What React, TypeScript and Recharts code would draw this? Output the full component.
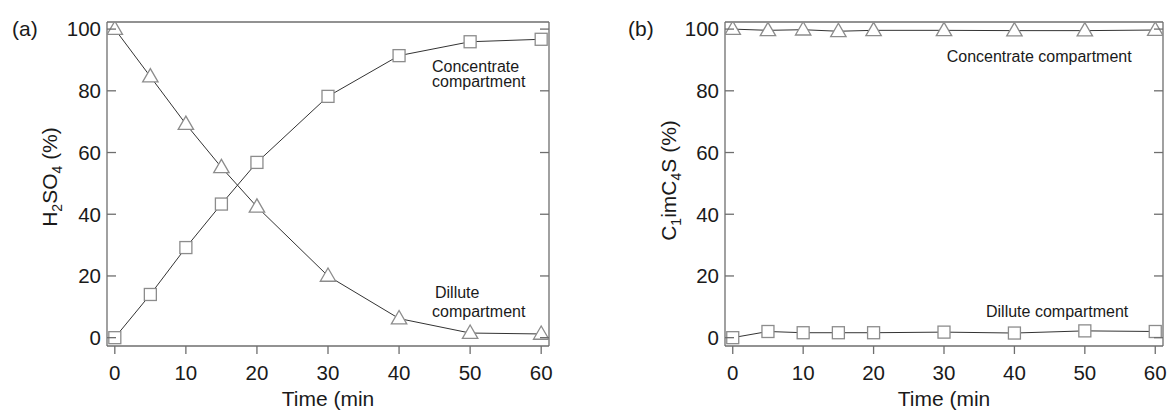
import React from 'react';
import { LineChart, Line, XAxis, YAxis, ReferenceLine } from 'recharts';

const times = [0, 5, 10, 15, 20, 30, 40, 50, 60];
const aConcentrate = [0, 14, 29.2, 43.3, 56.8, 78.2, 91.4, 95.9, 96.7];
const aDilute = [100, 84.6, 69.2, 55.2, 42.4, 20, 6.2, 1.5, 1.2];
const bConcentrate = [100, 99.6, 99.8, 99.3, 99.6, 99.6, 99.5, 99.5, 99.7];
const bDilute = [0, 2.0, 1.6, 1.6, 1.6, 1.8, 1.5, 2.2, 2.0];
const xTicks = [0, 10, 20, 30, 40, 50, 60];
const yTicks = [0, 20, 40, 60, 80, 100];
const X_DOMAIN: [number, number] = [-1.1, 61.1];
const Y_DOMAIN: [number, number] = [-2.7, 102.3];

const dataA = times.map((t, i) => ({ t, conc: aConcentrate[i], dil: aDilute[i] }));
const dataB = times.map((t, i) => ({ t, conc: bConcentrate[i], dil: bDilute[i] }));

const FONT = '"Liberation Sans", Arial, sans-serif';
const AXIS = '#6e6e6e';
const LINE = '#333333';
const MARK = '#8c8c8c';
const TXT = '#1a1a1a';

const SquareDot = (props: any) => {
  const { cx, cy, index } = props;
  if (cx == null || cy == null) return <g key={`s-${index}`} />;
  return (
    <rect key={`s-${index}`} x={cx - 6} y={cy - 6} width={12} height={12}
      fill="#ffffff" stroke={MARK} strokeWidth={1.3} />
  );
};

const TriDot = (props: any) => {
  const { cx, cy, index } = props;
  if (cx == null || cy == null) return <g key={`t-${index}`} />;
  const pts = `${cx},${cy - 8} ${cx - 7.7},${cy + 5.3} ${cx + 7.7},${cy + 5.3}`;
  return <polygon key={`t-${index}`} points={pts} fill="#ffffff" stroke={MARK} strokeWidth={1.3} />;
};

// left y ticks: label at tx, axis sits tickMargin (6) px to its right; tick drawn inward
const LeftTick = (props: any) => {
  const { x, y, payload } = props;
  const ax = x + 6;
  return (
    <g>
      <line x1={ax} x2={ax + 9} y1={y} y2={y} stroke={AXIS} strokeWidth={1.3} />
      <text x={x} y={y} dy="0.355em" textAnchor="end" fontSize={20.5} fill={TXT} fontFamily={FONT}>
        {payload.value}
      </text>
    </g>
  );
};

// right y ticks: tx equals axis position (tickSize 0, tickMargin 0); tick drawn inward
const RightTick = (props: any) => {
  const { x, y } = props;
  return <line x1={x - 9} x2={x} y1={y} y2={y} stroke={AXIS} strokeWidth={1.3} />;
};

type Part = { s: string; sub?: boolean };

const makeYLabel = (parts: Part[], dx: number, dyc: number) => (props: any) => {
  const vb = props.viewBox || {};
  const bx = vb.x + vb.width - dx;
  const cy = vb.y + vb.height / 2 + dyc;
  let prevSub = false;
  return (
    <text transform={`translate(${bx}, ${cy}) rotate(-90)`} x={0} y={0} textAnchor="middle"
      fontFamily={FONT} fontSize={21} fill={TXT}>
      {parts.map((p, i) => {
        let dy = 0;
        if (p.sub && !prevSub) dy = 5;
        if (!p.sub && prevSub) dy = -5;
        prevSub = !!p.sub;
        return (
          <tspan key={i} dy={dy} fontSize={p.sub ? 14 : 21}>{p.s}</tspan>
        );
      })}
    </text>
  );
};

const labelA: Part[] = [{ s: 'H' }, { s: '2', sub: true }, { s: 'SO' }, { s: '4', sub: true }, { s: ' (%)' }];
const labelB: Part[] = [{ s: 'C' }, { s: '1', sub: true }, { s: 'imC' }, { s: '4', sub: true }, { s: 'S (%)' }];

const tickStyle = { fontSize: 20.5, fill: TXT, fontFamily: FONT };

interface PanelProps {
  data: any[];
  yWidth: number;
  rWidth: number;
  yLabel: (p: any) => React.ReactElement;
  concDot: (p: any) => React.ReactElement;
  dilDot: (p: any) => React.ReactElement;
}

const Panel = ({ data, yWidth, rWidth, yLabel, concDot, dilDot }: PanelProps) => (
  <LineChart width={584} height={410} data={data} margin={{ top: 22, right: 0, bottom: 0, left: 0 }}>
    <XAxis xAxisId={0} dataKey="t" type="number" domain={X_DOMAIN} ticks={xTicks}
      allowDataOverflow height={64} tickSize={8} tickMargin={11}
      stroke={AXIS} strokeWidth={1.3} tick={tickStyle}
      label={{ value: 'Time (min', position: 'insideBottom', offset: 4, style: { fontSize: 21, fill: TXT, fontFamily: FONT } }} />
    <YAxis yAxisId={0} type="number" domain={Y_DOMAIN} ticks={yTicks} allowDataOverflow
      width={yWidth} tickLine={false} tickSize={0} tickMargin={6} stroke={AXIS} strokeWidth={1.3}
      tick={LeftTick} label={{ content: yLabel }} />
    <YAxis yAxisId="r" orientation="right" type="number" domain={Y_DOMAIN} ticks={yTicks}
      allowDataOverflow width={rWidth} tickLine={false} tickSize={0} tickMargin={0}
      tick={RightTick} stroke={AXIS} strokeWidth={1.3} />
    <ReferenceLine xAxisId={0} yAxisId={0} y={Y_DOMAIN[1]} stroke={AXIS} strokeWidth={1.3} ifOverflow="extendDomain" />
    <Line dataKey="conc" xAxisId={0} yAxisId={0} stroke={LINE} strokeWidth={1} dot={concDot}
      isAnimationActive={false} />
    <Line dataKey="dil" xAxisId={0} yAxisId={0} stroke={LINE} strokeWidth={1} dot={dilDot}
      isAnimationActive={false} />
  </LineChart>
);

export default function App() {
  return (
    <div style={{ position: 'absolute', left: 0, top: 0, width: 1168, height: 410, background: '#fff', fontFamily: FONT }}>
      <div style={{ position: 'absolute', left: 0, top: 0 }}>
        <Panel data={dataA} yWidth={107} rWidth={35} yLabel={makeYLabel(labelA, 50.5, -7)}
          concDot={SquareDot} dilDot={TriDot} />
      </div>
      <div style={{ position: 'absolute', left: 584, top: 0 }}>
        <Panel data={dataB} yWidth={141} rWidth={5} yLabel={makeYLabel(labelB, 49, -3.5)}
          concDot={TriDot} dilDot={SquareDot} />
      </div>
      <svg width={1168} height={410} style={{ position: 'absolute', left: 0, top: 0, pointerEvents: 'none' }}>
        <g fontFamily={FONT} fill={TXT}>
          <text x={12} y={35.5} fontSize={21}>(a)</text>
          <text x={628} y={35.5} fontSize={21}>(b)</text>
          <g fontSize={16}>
            <text x={432} y={71.7}>Concentrate</text>
            <text x={432} y={87}>compartment</text>
            <text x={435} y={298.3}>Dillute</text>
            <text x={432} y={316.5}>compartment</text>
            <text x={946.7} y={61.5}>Concentrate compartment</text>
            <text x={986} y={316.5}>Dillute compartment</text>
          </g>
        </g>
      </svg>
    </div>
  );
}
